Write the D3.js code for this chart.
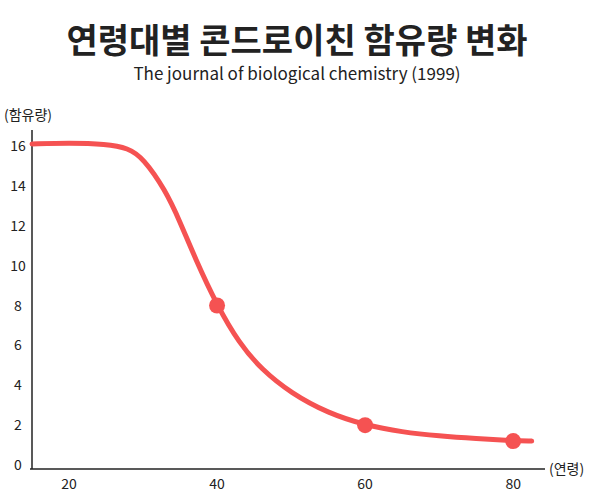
<!DOCTYPE html>
<html><head><meta charset="utf-8">
<script src="https://cdn.jsdelivr.net/npm/d3@7"></script>
<style>body{margin:0;background:#fff}text{font-family:"Noto Sans CJK KR","Noto Sans",sans-serif}</style>
</head><body><svg id="c" width="595" height="498"></svg>
<script>
const xTicks=[20,40,60,80];
const yTicks=[0,2,4,6,8,10,12,14,16];
const curveX=[15,20,25,28,30,33,35,37,40,43,46,50,55,60,65,70,75,80,82.5];
const curveY=[16.1,16.15,16.1,15.9,15.4,13.8,12.2,10.4,8,6.1,4.8,3.6,2.6,2,1.65,1.45,1.32,1.22,1.2];
const dotX=[40,60,80];
const dotY=[8,2,1.2];
const svg=d3.select("#c");
const x=d3.scaleLinear().domain([15,84.3]).range([32,545]);
const y=d3.scaleLinear().domain([0,16]).range([465,146]);
svg.append("text").attr("x",297).attr("y",53).attr("text-anchor","middle").attr("font-size",34).attr("font-weight",700).attr("fill","#222").text("연령대별 콘드로이친 함유량 변화");
svg.append("text").attr("x",297).attr("y",80).attr("text-anchor","middle").attr("font-size",17).attr("fill","#222").text("The journal of biological chemistry (1999)");
const c="#222";
svg.append("line").attr("x1",32).attr("x2",32).attr("y1",130).attr("y2",469).attr("stroke",c).attr("stroke-width",1.5);
svg.append("line").attr("x1",30).attr("x2",545).attr("y1",469).attr("y2",469).attr("stroke",c).attr("stroke-width",1.5);
yTicks.forEach(t=>svg.append("text").attr("x",18).attr("y",y(t)+5).attr("text-anchor","middle").attr("font-size",14).attr("fill",c).text(t));
xTicks.forEach(t=>svg.append("text").attr("x",x(t)).attr("y",489).attr("text-anchor","middle").attr("font-size",14).attr("fill",c).text(t));
svg.append("text").attr("x",4).attr("y",120).attr("font-size",14).attr("fill",c).text("(함유량)");
svg.append("text").attr("x",549).attr("y",474).attr("font-size",14).attr("fill",c).text("(연령)");
const pts=curveX.map((v,i)=>[v,curveY[i]]);
svg.append("path").attr("d",d3.line().x(d=>x(d[0])).y(d=>y(d[1])).curve(d3.curveBasis)(pts)).attr("fill","none").attr("stroke","#f55252").attr("stroke-width",5).attr("stroke-linecap","round");
svg.selectAll(".d").data(dotX).join("circle").attr("cx",d=>x(d)).attr("cy",(d,i)=>y(dotY[i])).attr("r",8).attr("fill","#f55252");
</script></body></html>
